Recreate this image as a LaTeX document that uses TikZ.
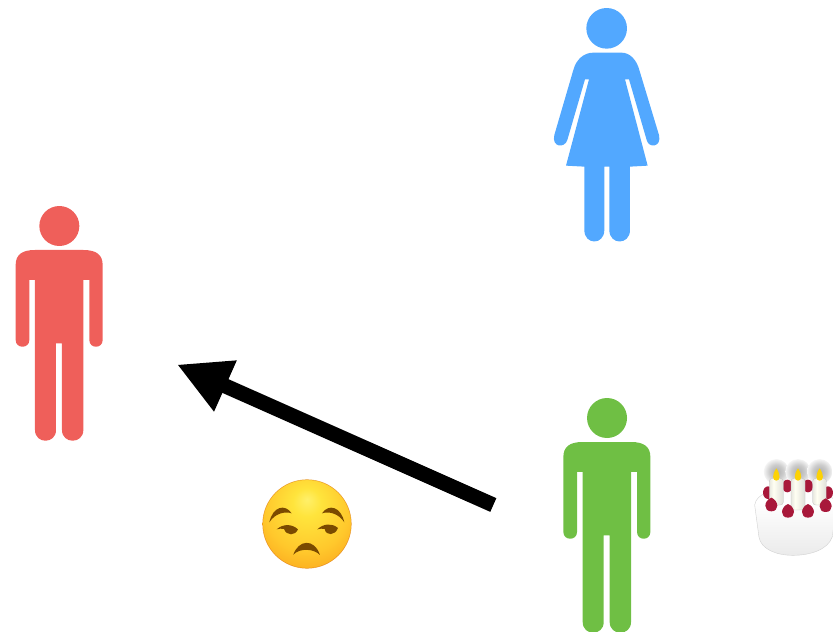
\documentclass[tikz,border=0pt]{standalone}
\usetikzlibrary{arrows.meta}
\definecolor{manred}{HTML}{EF5F5A}
\definecolor{womanblue}{HTML}{52A8FF}
\definecolor{mangreen}{HTML}{6FBF44}
\definecolor{facebrown}{HTML}{7A4A00}
\definecolor{berry}{HTML}{A8183A}
\definecolor{faceT}{HTML}{FFF06A}
\definecolor{faceA}{HTML}{FFE43C}
\definecolor{faceB}{HTML}{FFC82C}
\definecolor{faceC}{HTML}{FBA91E}
\definecolor{faceD}{HTML}{EE9012}
\pgfdeclareradialshading{faceshade}{\pgfpoint{0bp}{14bp}}{
  color(0bp)=(faceT);
  color(8bp)=(faceA);
  color(24bp)=(faceB);
  color(35bp)=(faceC);
  color(42bp)=(faceD);
  color(60bp)=(faceD)}
\pgfdeclareradialshading{halo}{\pgfpointorigin}{
  color(0bp)=(black!32);
  color(14bp)=(black!20);
  color(28bp)=(white);
  color(50bp)=(white)}
\pgfdeclareverticalshading{cakebody}{100bp}{
  color(0bp)=(black!22);
  color(25bp)=(black!8);
  color(65bp)=(white);
  color(100bp)=(black!3)}
\pgfdeclarehorizontalshading{candle}{100bp}{
  color(0bp)=(black!25);
  color(40bp)=(white!95!yellow);
  color(100bp)=(black!22)}
\tikzset{
  man/.pic={
    \fill[pic actions] (178,78) circle[x radius=60,y radius=60];
    \fill[pic actions] (105,150) -- (250,150) .. controls (290,150) and (308,165) .. (308,195)
      -- (308,420) .. controls (308,447) and (268,447) .. (268,420) -- (268,240) -- (250,240)
      -- (250,690) .. controls (250,733) and (186,733) .. (186,690) -- (186,430) -- (168,430)
      -- (168,690) .. controls (168,733) and (105,733) .. (105,690) -- (105,240) -- (88,240)
      -- (88,420) .. controls (88,447) and (47,447) .. (47,420) -- (47,195)
      .. controls (47,165) and (65,150) .. (105,150) -- cycle;
  },
  woman/.pic={
    \fill[pic actions] (200,85) circle[x radius=61,y radius=61];
    \fill[pic actions] (160,158) -- (245,158) .. controls (270,158) and (290,180) .. (298,210)
      -- (357,405) .. controls (366,442) and (326,446) .. (320,420) -- (267,238) -- (255,238)
      -- (323,497) -- (270,500) -- (270,690) .. controls (270,736) and (208,736) .. (208,690)
      -- (208,500) -- (193,500) -- (193,690) .. controls (193,736) and (133,736) .. (133,690)
      -- (133,500) -- (78,497) -- (147,238) -- (135,238) -- (82,420)
      .. controls (74,446) and (34,442) .. (43,405) -- (100,210)
      .. controls (108,180) and (130,158) .. (160,158) -- cycle;
  },
  bigarrow/.style={line width=15pt,-{Triangle[length=53pt,width=52pt]},black},
  zoomed/.style={x=0.3333pt,y=-0.3333pt},
}
\begin{document}
\begin{tikzpicture}[x=1pt,y=-1pt]
\useasboundingbox (0,0) rectangle (833,632);
% figures
\begin{scope}[shift={(0,200)},zoomed]
  \pic[fill=manred] {man};
\end{scope}
\begin{scope}[shift={(547.7,392)},zoomed]
  \pic[fill=mangreen] {man};
\end{scope}
\begin{scope}[shift={(540,0)},zoomed]
  \pic[fill=womanblue] {woman};
\end{scope}
% arrow
\coordinate (from) at (493.3,505);
\coordinate (to) at (177,364.5);
\draw[bigarrow] (from) -- (to);
% unamused face
\begin{scope}[shift={(240,460)},zoomed]
  \shade[shading=faceshade] (201,192) circle[x radius=133,y radius=133];
  \draw[black!15!orange,opacity=.6,line width=.5pt] (201,192) circle[x radius=133,y radius=133];
  \fill[facebrown] (88,187) .. controls (98,140) and (135,130) .. (155,160)
     .. controls (135,153) and (105,160) .. (88,187) -- cycle;
  \fill[facebrown] (313,187) .. controls (303,140) and (266,130) .. (246,160)
     .. controls (266,153) and (296,160) .. (313,187) -- cycle;
  \fill[facebrown] (110,208) .. controls (130,191) and (155,191) .. (174,208)
     .. controls (165,228) and (140,228) .. (132,207) .. controls (125,205) and (118,206) .. (110,208) -- cycle;
  \fill[facebrown] (232,208) .. controls (250,191) and (275,188) .. (294,204)
     .. controls (285,228) and (258,228) .. (254,207) .. controls (246,205) and (240,206) .. (232,208) -- cycle;
  \fill[facebrown] (160,284) .. controls (175,240) and (222,233) .. (240,285)
     .. controls (222,266) and (180,263) .. (160,284) -- cycle;
\end{scope}
% birthday cake
\begin{scope}[shift={(733,450)},zoomed]
  \clip (0,0) rectangle (300,360);
  \shade[shading=halo] (130,65) circle[x radius=38,y radius=38];
  \shade[shading=halo] (195,65) circle[x radius=38,y radius=38];
  \shade[shading=halo] (260,65) circle[x radius=38,y radius=38];
  \shade[shading=cakebody,draw=black!18,line width=.4pt] (65,165)
     .. controls (70,130) and (120,115) .. (185,115)
     .. controls (260,115) and (305,135) .. (310,165)
     -- (298,260) .. controls (285,300) and (230,316) .. (180,316)
     .. controls (130,316) and (85,298) .. (78,262) -- cycle;
  \foreach \x/\y in {105/128,163/108,225/108,285/128}
    \fill[berry] (\x,\y) circle[x radius=15,y radius=19];
  \foreach \x/\t/\b in {130/85/165,195/85/180,260/85/165}{
    \shade[shading=candle,draw=black!25,line width=.3pt,rounded corners=3pt]
      (\x-21,\t) rectangle (\x+21,\b);
    \fill[yellow!70!orange] (\x,55) .. controls (\x+14,75) and (\x+12,92) .. (\x,92)
       .. controls (\x-12,92) and (\x-14,75) .. (\x,55) -- cycle;
  }
  \foreach \x/\y in {115/163,165/182,225/182,278/165}
    \fill[berry] (\x,\y-20) .. controls (\x+24,\y-10) and (\x+24,\y+21) .. (\x,\y+21)
       .. controls (\x-24,\y+21) and (\x-24,\y-10) .. (\x,\y-20) -- cycle;
\end{scope}
\end{tikzpicture}
\end{document}
